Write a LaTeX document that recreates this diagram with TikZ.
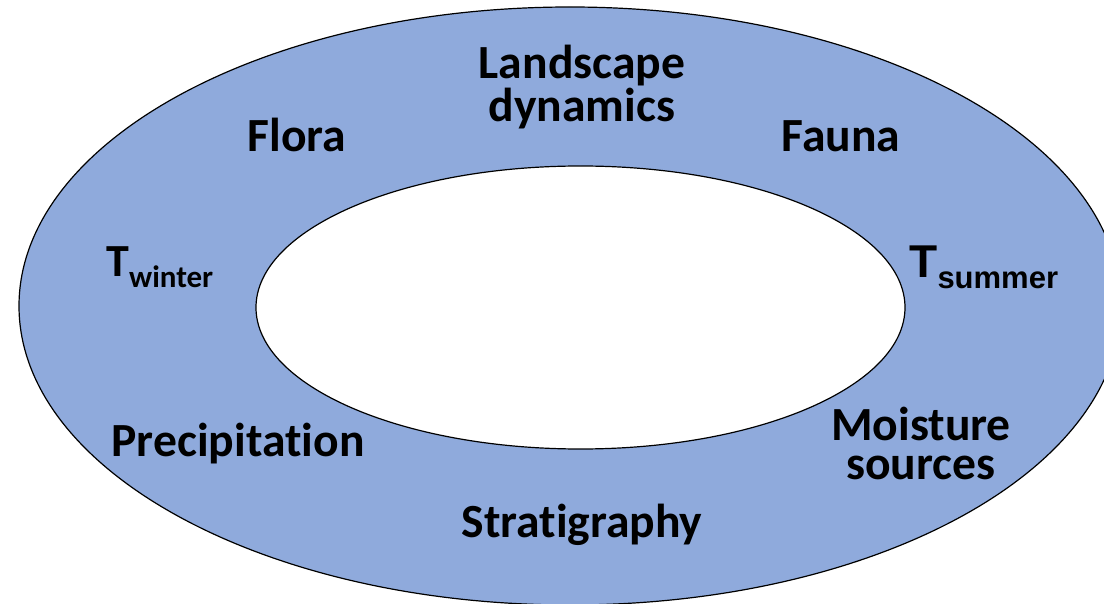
\documentclass[tikz,border=0pt]{standalone}
\usepackage{fontspec}
\setmainfont{Carlito}[Ligatures=NoCommon]
\newfontfamily\arialfont{Liberation Sans}
\usepackage{tikz}
\definecolor{ringblue}{HTML}{8FAADC}

\tikzset{
  lbl/.style={font=\bfseries\fontsize{23.8}{21.5}\selectfont, align=center, inner sep=0pt, anchor=base},
  tlbl/.style={font=\bfseries\fontsize{23}{23}\selectfont, inner sep=0pt, anchor=base west}
}
\newcommand{\subtext}[1]{\raisebox{-5.5pt}{\fontsize{15.5}{15.5}\selectfont #1}}

\begin{document}
\begin{tikzpicture}[x=0.5pt,y=-0.5pt]
  \useasboundingbox (0,0) rectangle (1104,604);
  \clip (0,0) rectangle (1104,604);
  % The ring
  \fill[ringblue] (570,306) ellipse [x radius=551, y radius=299];
  \draw[line width=0.6pt] (570,306) ellipse [x radius=551, y radius=299];
  \filldraw[fill=white, line width=0.6pt] (580.5,307.5) ellipse [x radius=324.5, y radius=141.5];
  % The labels (base = last line)
  \node[lbl] (landscape) at (582,122) {Landscape\\dynamics};
  \node[lbl] (flora) at (297,152) {Flora};
  \node[lbl] (fauna) at (841,152) {Fauna};
  \node[tlbl] (twinter) at (106,277) {T\subtext{winter}};
  \node[tlbl, font=\arialfont\bfseries\fontsize{23}{23}\selectfont] (tsummer) at (909,278) {T\subtext{summer}};
  \node[lbl] (precip) at (238,457) {Precipitation};
  \node[lbl, font=\bfseries\fontsize{23.8}{19.8}\selectfont] (moisture) at (921,480) {Moisture\\sources};
  \node[lbl] (strat) at (582,537) {Stratigraphy};
\end{tikzpicture}
\end{document}
